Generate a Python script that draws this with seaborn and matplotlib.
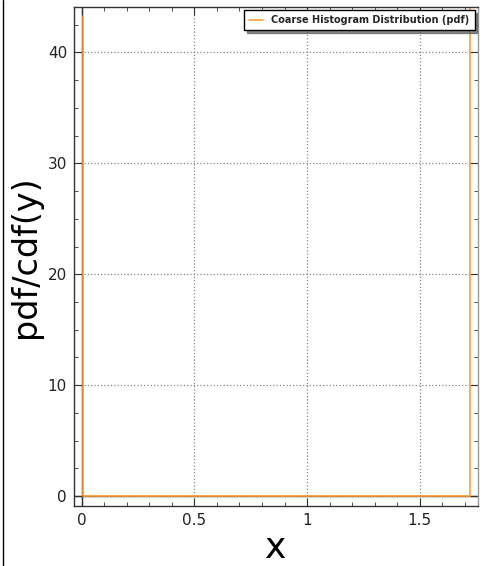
import matplotlib
matplotlib.use("Agg")
import matplotlib.pyplot as plt
import numpy as np
import pandas as pd
import seaborn as sns
from matplotlib.lines import Line2D

# coarse histogram pdf, drawn as a step outline
x_vals = [0.0075, 0.0075, 1.724, 1.724]
pdf_vals = [43.3, 0.0, 0.0, 47.0]
x_ticks = [0, 0.5, 1, 1.5]
x_tick_labels = ["0", "0.5", "1", "1.5"]
y_ticks = [0, 10, 20, 30, 40]

sns.set_style("ticks")
plt.rcParams["font.family"] = ["DejaVu Sans"]

df = pd.DataFrame({"x": x_vals, "pdf": pdf_vals})

fig = plt.figure(figsize=(4.94, 5.66), dpi=100)
ax = fig.add_axes([74 / 494, 60 / 566, 404 / 494, 499 / 566])

ax.axhline(0, color="#333333", lw=1.0, zorder=1)
ax.axvline(0, color="#333333", lw=1.0, zorder=1)
sns.lineplot(data=df, x="x", y="pdf", ax=ax, color="#FFA033", lw=1.2,
             sort=False, estimator=None, label="Coarse Histogram Distribution (pdf)",
             zorder=2)

ax.set_xlim(-0.034, 1.758)
ax.set_ylim(-0.9, 44.1)
ax.set_xticks(x_ticks)
ax.set_xticklabels(x_tick_labels)
ax.set_yticks(y_ticks)
ax.set_xticks(np.arange(0, 1.75, 0.1), minor=True)
ax.set_yticks(np.arange(0, 44, 2.5), minor=True)
ax.tick_params(axis="both", which="both", direction="in", top=True, right=True,
               labelsize=11, colors="#333333", labelcolor="#222222")
ax.tick_params(axis="both", which="major", length=6, pad=5)
ax.tick_params(axis="both", which="minor", length=3)
ax.grid(True, which="major", linestyle=":", color="#888888", lw=0.9)
for s in ax.spines.values():
    s.set_color("#333333")
    s.set_linewidth(1.0)
ax.spines["right"].set_color("#999999")

ax.set_xlabel("x", fontsize=26, labelpad=2, color="black")
ax.set_ylabel("pdf/cdf(y)", fontsize=24, labelpad=4, color="black")

leg = ax.legend(loc="upper right", fancybox=False,
                shadow={"color": "0.35", "alpha": 0.7}, frameon=True,
                prop={"weight": "bold", "size": 7.0}, borderaxespad=0.35,
                handlelength=1.4, borderpad=0.5, handletextpad=0.9)
leg.get_frame().set_edgecolor("black")

fig.add_artist(Line2D([2.5 / 494, 2.5 / 494], [0, 1], color="black", lw=1.0,
                      transform=fig.transFigure))

fig.savefig("out.png", dpi=100)
